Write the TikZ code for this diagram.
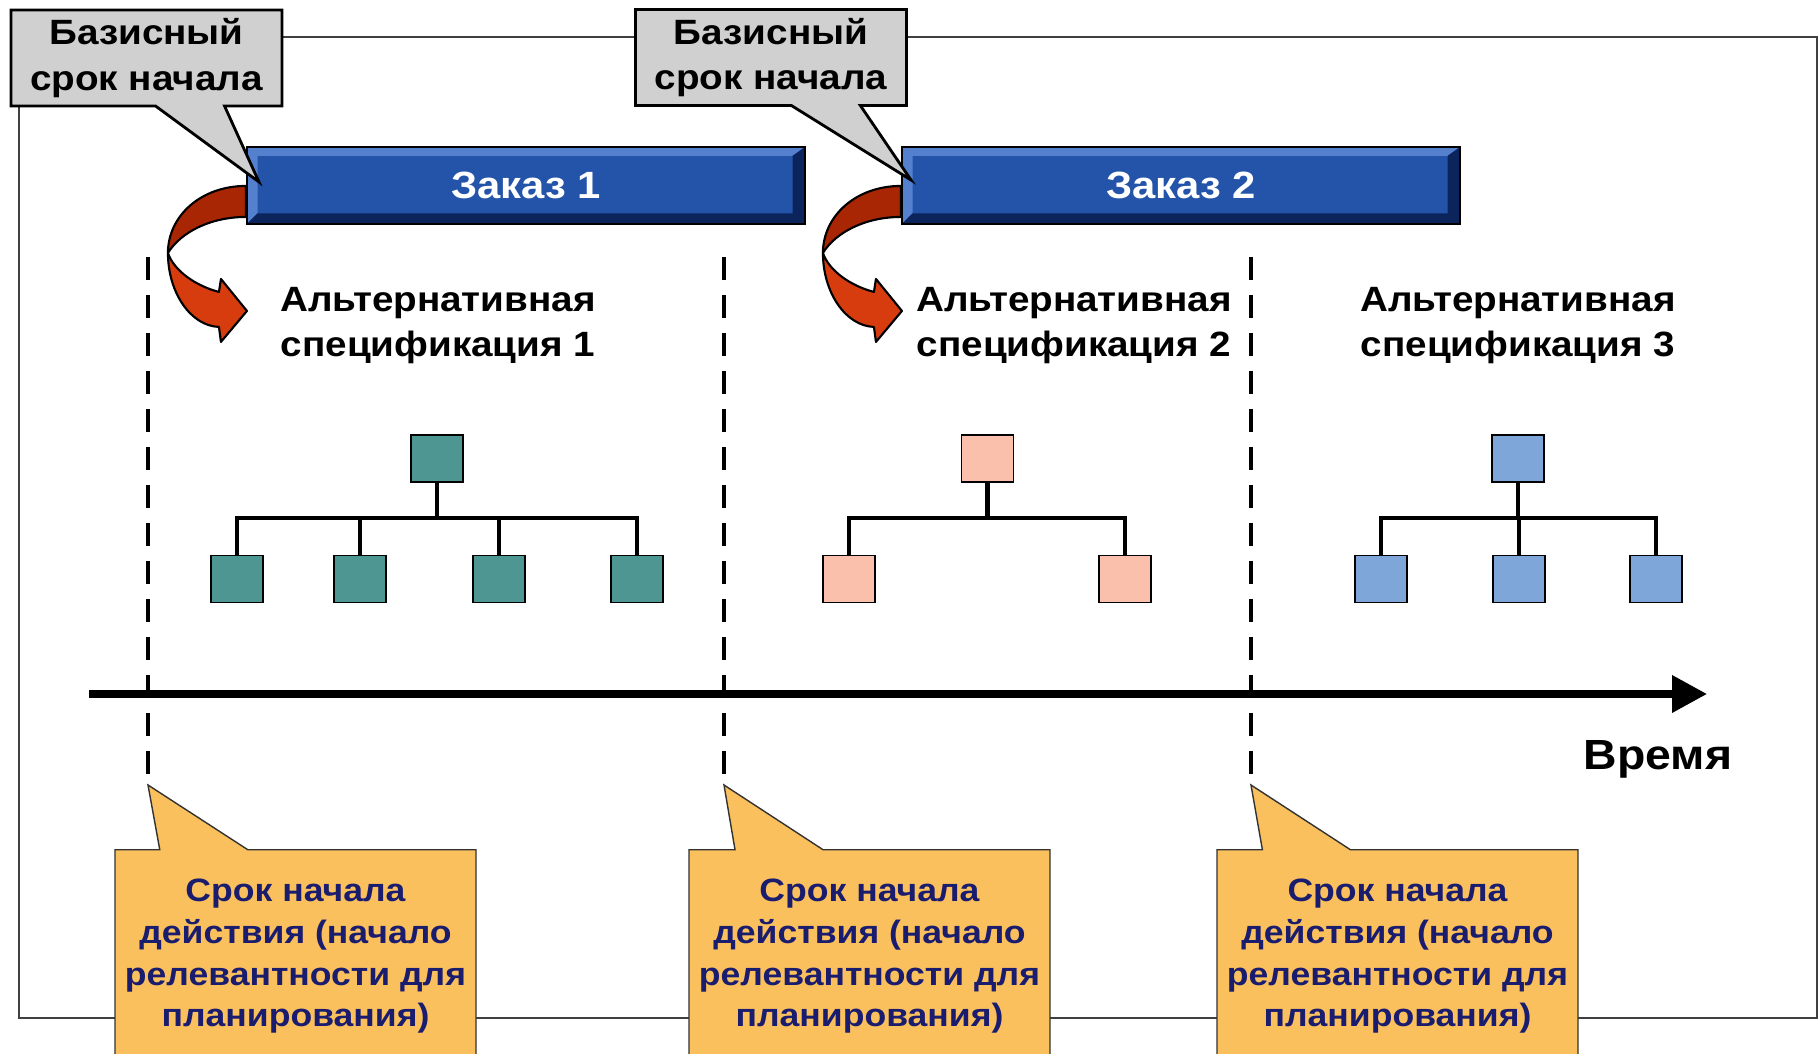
\documentclass[tikz,border=0pt]{standalone}
\usepackage{fontspec}
\setmainfont{Liberation Sans}[FakeStretch=1.1]
\usetikzlibrary{arrows.meta,shapes.callouts}

\definecolor{barblue}{RGB}{36,84,170}
\definecolor{barlight}{RGB}{84,128,206}
\definecolor{bardark}{RGB}{12,36,92}
\definecolor{notegray}{RGB}{208,208,208}
\definecolor{noteyellow}{RGB}{250,192,94}
\definecolor{notetext}{RGB}{26,28,110}
\definecolor{arrowdark}{RGB}{168,38,4}
\definecolor{arrowred}{RGB}{214,60,14}
\definecolor{tealbox}{RGB}{78,150,145}
\definecolor{pinkbox}{RGB}{250,192,172}
\definecolor{bluebox}{RGB}{126,166,216}

\tikzset{
  order/.style={draw=black, line width=0.6pt, fill=barblue, minimum width=5.58cm,
    minimum height=0.77cm, inner sep=0pt, text=white, font=\bfseries\fontsize{10.8}{12}\selectfont,
    path picture={
      \fill[barlight] (path picture bounding box.north west) -- (path picture bounding box.north east)
        -- ([shift={(-3.5pt,-2.5pt)}]path picture bounding box.north east)
        -- ([shift={(3pt,-2.5pt)}]path picture bounding box.north west)
        -- ([shift={(3pt,3pt)}]path picture bounding box.south west)
        -- (path picture bounding box.south west) -- cycle;
      \fill[bardark] (path picture bounding box.south west) -- (path picture bounding box.south east)
        -- (path picture bounding box.north east)
        -- ([shift={(-3.5pt,-2.5pt)}]path picture bounding box.north east)
        -- ([shift={(-3.5pt,3pt)}]path picture bounding box.south east)
        -- ([shift={(3pt,3pt)}]path picture bounding box.south west) -- cycle;
    }},
  tnode/.style={draw=black, line width=0.5pt, minimum width=0.52cm, minimum height=0.47cm, inner sep=0pt},
  link/.style={line width=1.3pt, line join=miter},
  guide/.style={line width=1.4pt, dash pattern=on 0.23cm off 0.15cm},
  timeaxis/.style={line width=2pt, -{Triangle[length=0.35cm,width=0.36cm]}},
  spectext/.style={align=center, font=\bfseries\fontsize{10}{12.8}\selectfont},
  basenote/.style={rectangle callout, draw=black, line width=0.8pt, fill=notegray, align=center,
    minimum width=2.71cm, minimum height=0.96cm, inner sep=0pt, callout pointer width=0.69cm,
    font=\bfseries\fontsize{10}{13}\selectfont},
  validnote/.style={rectangle callout, draw=black!80, line width=0.4pt, fill=noteyellow, text=notetext,
    align=center, minimum width=3.61cm, minimum height=2.13cm, anchor=north, inner sep=0pt,
    callout pointer width=0.88cm, font=\bfseries\fontsize{9.2}{11.9}\selectfont}
}

% curved red arrow hanging off the left end of an order bar
\newcommand{\turnarrow}[1]{%
  \begin{scope}[shift={(#1.north west)}, line width=0.6pt, line join=round]
    \filldraw[fill=arrowdark] (0,0.40) .. controls (-0.45,0.40) and (-0.78,0.70) .. (-0.78,1.07)
      .. controls (-0.65,0.86) and (-0.35,0.71) .. (0,0.71) -- cycle;
    \filldraw[fill=arrowred] (-0.78,1.07) .. controls (-0.78,1.47) and (-0.55,1.80) .. (-0.27,1.81)
      -- (-0.25,1.96) -- (0.01,1.65) -- (-0.25,1.33) -- (-0.27,1.46)
      .. controls (-0.5,1.40) and (-0.72,1.25) .. (-0.78,1.07) -- cycle;
  \end{scope}}

\begin{document}
\begin{tikzpicture}[x=1cm,y=-1cm]
  \useasboundingbox (0,0) rectangle (18.2,10.54);
  \clip (0,0) rectangle (18.2,10.54);
  \fill[white] (0,0) rectangle (18.2,10.54);

  % outer frame
  \draw[black!75, line width=0.6pt] (0.19,0.37) rectangle (18.17,10.18);

  % dashed boundaries
  \foreach \n/\x in {1/1.48, 2/7.24, 3/12.51} {
    \coordinate (d\n t) at (\x,2.57);
    \coordinate (d\n b) at (\x,7.85);
    \draw[guide] (d\n t) -- (d\n b);
  }

  % time axis
  \coordinate (t0) at (0.89,6.94);
  \coordinate (t1) at (17.07,6.94);
  \draw[timeaxis] (t0) -- (t1);
  \node[anchor=base, font=\bfseries\fontsize{12}{14}\selectfont] (vremya) at (16.58,7.70) {Время};

  % alternative specifications
  \node[spectext] (spec1) at (4.38,3.26) {Альтернативная\\спецификация 1};
  \node[spectext] (spec2) at (10.74,3.26) {Альтернативная\\спецификация 2};
  \node[spectext] (spec3) at (15.18,3.26) {Альтернативная\\спецификация 3};

  % structure trees
  \node[tnode, fill=tealbox] (r1) at (4.37,4.585) {};
  \foreach \i/\x in {1/2.37, 2/3.60, 3/4.99, 4/6.37} {
    \node[tnode, fill=tealbox] (r1c\i) at (\x,5.79) {};
    \draw[link] (r1.south) -- ++(0,0.35) -| (r1c\i.north);
  }
  \node[tnode, fill=pinkbox] (r2) at (9.875,4.585) {};
  \foreach \i/\x in {1/8.49, 2/11.25} {
    \node[tnode, fill=pinkbox] (r2c\i) at (\x,5.79) {};
    \draw[link] (r2.south) -- ++(0,0.35) -| (r2c\i.north);
  }
  \node[tnode, fill=bluebox] (r3) at (15.18,4.585) {};
  \foreach \i/\x in {1/13.81, 2/15.19, 3/16.56} {
    \node[tnode, fill=bluebox] (r3c\i) at (\x,5.79) {};
    \draw[link] (r3.south) -- ++(0,0.35) -| (r3c\i.north);
  }

  % orders
  \node[order] (order1) at (5.26,1.855) {Заказ 1};
  \node[order] (order2) at (11.81,1.855) {Заказ 2};
  \turnarrow{order1}
  \turnarrow{order2}

  % basic start dates
  \coordinate (p1) at (2.59,1.82);
  \coordinate (p2) at (9.11,1.80);
  \node[basenote, callout absolute pointer={(p1)}] (base1) at (1.465,0.58) {Базисный\\срок начала};
  \node[basenote, callout absolute pointer={(p2)}] (base2) at (7.71,0.575) {Базисный\\срок начала};

  % validity start dates
  \foreach \n/\x in {1/2.955, 2/8.695, 3/13.975}
    \node[validnote, callout absolute pointer={(d\n b)}] (valid\n) at (\x,8.49)
      {Срок начала\\действия (начало\\релевантности для\\планирования)};
\end{tikzpicture}
\end{document}
